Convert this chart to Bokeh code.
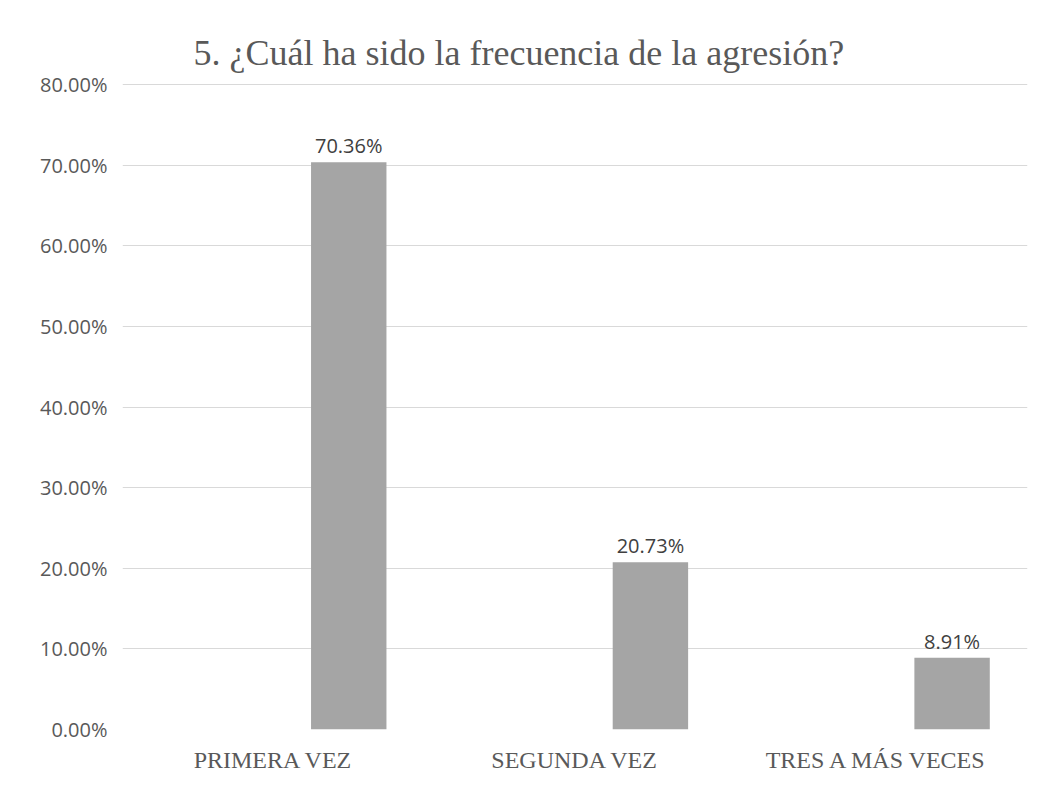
from bokeh.plotting import figure
from bokeh.models import FactorRange, Range1d, PrintfTickFormatter, ColumnDataSource, Label
from bokeh.transform import dodge
from bokeh.embed import file_html
from bokeh.resources import INLINE

categories = ["PRIMERA VEZ", "SEGUNDA VEZ", "TRES A MÁS VECES"]
values = [70.36, 20.73, 8.91]
labels = ["70.36%", "20.73%", "8.91%"]
y_ticks = [0, 10, 20, 30, 40, 50, 60, 70, 80]
title_text = "5. ¿Cuál ha sido la frecuencia de la agresión?"

src = ColumnDataSource(dict(cat=categories, val=values, lab=labels))

# frame spans the full height above the axis so the title can sit inside it
p = figure(width=1031, height=779, output_backend="svg", toolbar_location=None,
           x_range=FactorRange(*categories, range_padding=0), y_range=Range1d(0, 90.42),
           min_border_left=122, min_border_right=4, min_border_top=0, min_border_bottom=50)
p.outline_line_color = None
p.background_fill_color = "white"
p.border_fill_color = "white"

p.add_layout(Label(x=71, x_units="screen", y=83.9, y_units="data", text=title_text,
                   text_font="Liberation Serif", text_font_size="36px", text_color="#595959",
                   text_baseline="alphabetic", text_align="left"))

xb = dodge("cat", 0.25, range=p.x_range)
p.vbar(x=xb, top="val", width=0.25, source=src, fill_color="#a5a5a5", line_color=None)
p.text(x=xb, y="val", text="lab", source=src, text_align="center", text_baseline="bottom",
       y_offset=-3, text_font_size="20px", text_color="#404040", text_font={"value": "Open Sans"})

p.yaxis.ticker = y_ticks
p.yaxis.formatter = PrintfTickFormatter(format="%.2f%%")
p.yaxis.axis_line_color = None
p.yaxis.major_tick_line_color = None
p.yaxis.minor_tick_line_color = None
p.yaxis.major_label_text_font = "Open Sans"
p.yaxis.major_label_text_font_size = "20px"
p.yaxis.major_label_text_color = "#595959"
p.yaxis.major_label_standoff = 9

p.xaxis.axis_line_color = None
p.xaxis.major_tick_line_color = None
p.xaxis.major_label_text_font = "Liberation Serif"
p.xaxis.major_label_text_font_size = "24px"
p.xaxis.major_label_text_color = "#595959"
p.xaxis.major_label_standoff = 11

p.xgrid.grid_line_color = None
p.ygrid.grid_line_color = "#d9d9d9"
p.ygrid.grid_line_width = 1

open("out.html", "w").write(file_html(p, INLINE))
